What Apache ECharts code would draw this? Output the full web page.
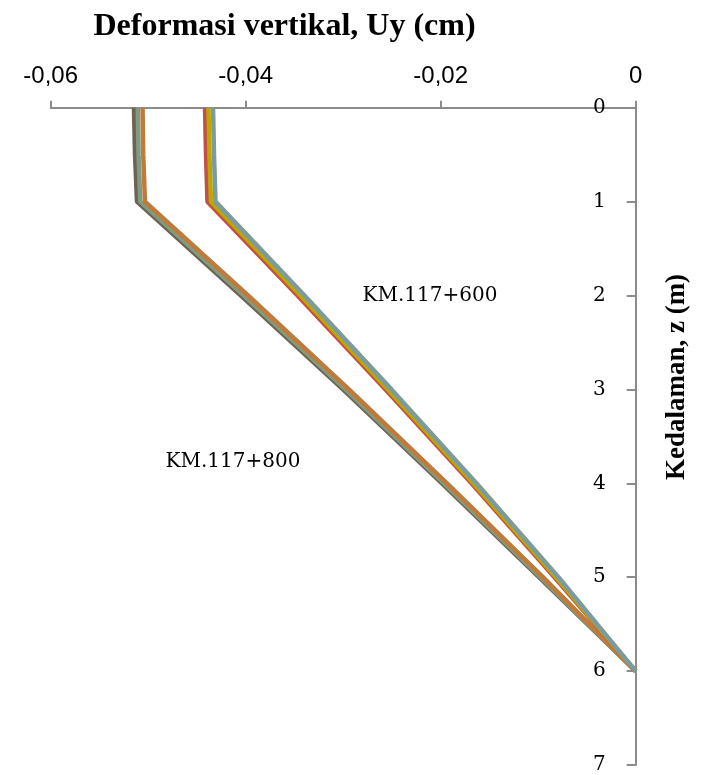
<!DOCTYPE html>
<html>
<head>
<meta charset="utf-8">
<title>Deformasi vertikal</title>
<script src="https://cdn.jsdelivr.net/npm/echarts@6/dist/echarts.min.js"></script>
<style>
  html, body { margin: 0; padding: 0; background: #ffffff; }
  #main { width: 701px; height: 775px; }
</style>
</head>
<body>
<div id="main"></div>
<script>
// depth points (m)
var depth = [0, 0.5, 1, 2, 3, 4, 5, 6];

// KM.117+800 group (cm)
var km800a = [-0.05146, -0.05135, -0.05115, -0.04049, -0.03002, -0.01987, -0.00992, 0];
var km800b = [-0.05107, -0.05099, -0.05081, -0.04017, -0.02976, -0.01966, -0.00976, 0];
var km800c = [-0.05058, -0.05051, -0.05033, -0.03976, -0.02941, -0.01935, -0.00951, 0];

// KM.117+600 group (cm)
var km600a = [-0.04417, -0.04407, -0.04392, -0.03469, -0.02566, -0.01684, -0.00833, 0];
var km600b = [-0.04382, -0.04372, -0.04356, -0.03438, -0.02541, -0.01664, -0.00817, 0];
var km600c = [-0.04335, -0.04325, -0.04310, -0.03397, -0.02505, -0.01633, -0.00792, 0];

var seriesNames = ['KM.117+800 a', 'KM.117+800 b', 'KM.117+800 c', 'KM.117+600 a', 'KM.117+600 b', 'KM.117+600 c'];
var seriesData = [km800a, km800b, km800c, km600a, km600b, km600c];
var seriesColors = ['#6f6252', '#7e9c82', '#c07a3a', '#c0504d', '#bfa600', '#7b9b9c'];

var chart = echarts.init(document.getElementById('main'));

var series = [];
for (var i = 0; i < seriesData.length; i++) {
  var pts = [];
  for (var j = 0; j < depth.length; j++) {
    pts.push([seriesData[i][j], depth[j]]);
  }
  series.push({
    name: seriesNames[i],
    type: 'line',
    data: pts,
    showSymbol: false,
    lineStyle: { color: seriesColors[i], width: 4.5 },
    itemStyle: { color: seriesColors[i] },
    animation: false
  });
}

var axisGray = '#8c8c8c';

var option = {
  animation: false,
  grid: { left: 50.7, right: 65.3, top: 107.7, bottom: 10 },
  xAxis: {
    type: 'value',
    position: 'top',
    min: -0.06,
    max: 0,
    interval: 0.02,
    axisLine: { show: true, onZero: false, lineStyle: { color: axisGray, width: 2 } },
    axisTick: { show: true, length: 7, lineStyle: { color: axisGray, width: 2 } },
    splitLine: { show: false },
    axisLabel: {
      margin: 19,
      color: '#000',
      fontFamily: 'Liberation Sans',
      fontSize: 24,
      formatter: function (v) {
        if (Math.abs(v) < 1e-9) return '0';
        return v.toFixed(2).replace('.', ',');
      }
    }
  },
  yAxis: {
    type: 'value',
    position: 'right',
    inverse: true,
    min: 0,
    max: 7,
    interval: 1,
    axisLine: { show: true, onZero: false, lineStyle: { color: axisGray, width: 2 } },
    axisTick: { show: true, inside: true, length: 9, lineStyle: { color: axisGray, width: 2 } },
    splitLine: { show: false },
    axisLabel: {
      inside: true,
      margin: 30,
      color: '#000',
      fontFamily: 'DejaVu Serif',
      fontSize: 20
    }
  },
  graphic: [
    {
      type: 'text',
      x: 284.5, y: 27,
      style: {
        text: 'Deformasi vertikal, Uy (cm)',
        fill: '#000',
        font: 'bold 32px "Liberation Serif"',
        textAlign: 'center',
        textVerticalAlign: 'middle'
      }
    },
    {
      type: 'text',
      x: 677, y: 377,
      rotation: Math.PI / 2,
      style: {
        text: 'Kedalaman, z (m)',
        fill: '#000',
        font: 'bold 27px "Liberation Serif"',
        textAlign: 'center',
        textVerticalAlign: 'middle'
      }
    },
    {
      type: 'text',
      x: 430, y: 296,
      style: {
        text: 'KM.117+600',
        fill: '#000',
        font: '20px "DejaVu Serif"',
        textAlign: 'center',
        textVerticalAlign: 'middle'
      }
    },
    {
      type: 'text',
      x: 233, y: 462,
      style: {
        text: 'KM.117+800',
        fill: '#000',
        font: '20px "DejaVu Serif"',
        textAlign: 'center',
        textVerticalAlign: 'middle'
      }
    }
  ],
  series: series
};

chart.setOption(option);
</script>
</body>
</html>
